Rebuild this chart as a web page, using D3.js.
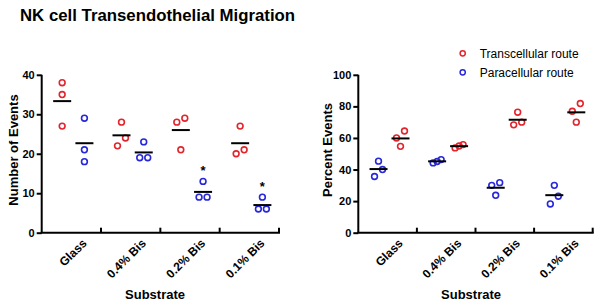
<!DOCTYPE html>
<html>
<head>
<meta charset="utf-8">
<script src="https://cdn.jsdelivr.net/npm/d3@7"></script>
<style>
  body { margin: 0; background: #fff; }
  text { font-family: "Liberation Sans", Arial, sans-serif; }
</style>
</head>
<body>
<div id="chart"></div>
<script>
// values (3 replicates each)
const categories = ["Glass", "0.4% Bis", "0.2% Bis", "0.1% Bis"];
const transEvents = [[38, 35, 27], [28, 24, 22], [29, 28, 21], [27, 21, 20]];
const paraEvents = [[29, 21, 18], [23, 19, 19], [13, 9, 9], [9, 6, 6]];
const transPercent = [[64.4, 54.7, 60], [54.9, 55.8, 53.7], [76.3, 68.3, 70], [81.8, 76.9, 70]];
const paraPercent = [[35.6, 45.3, 40], [45.1, 44.2, 46.3], [23.7, 31.7, 30], [18.2, 23.1, 30]];
const paraSignificant = [false, false, true, true];
const eventTicks = [0, 10, 20, 30, 40];
const percentTicks = [0, 20, 40, 60, 80, 100];
const seriesNames = ["Transcellular route", "Paracellular route"];

function init() {
  const w = 602;
  const h = 308;
  const red = "#e2252d";
  const blue = "#2727dc";

  const svg = d3
    .select("#chart")
    .append("svg")
    .attr("width", w)
    .attr("height", h);

  svg
    .append("text")
    .attr("x", 20)
    .attr("y", 21)
    .attr("font-size", "16.8px")
    .attr("font-weight", "bold")
    .text("NK cell Transendothelial Migration");

  // spread overlapping points sideways, like a prism scatter
  function jitter(vals, y) {
    const pts = vals.map((v) => ({ v: v, py: y(v) })).sort((a, b) => a.v - b.v);
    const clusters = [];
    pts.forEach((p, i) => {
      if (i > 0 && Math.abs(pts[i - 1].py - p.py) < 8) clusters[clusters.length - 1].push(p);
      else clusters.push([p]);
    });
    clusters.forEach((c) => {
      c.forEach((p, i) => {
        p.dx = c.length > 1 ? -4 + (8 * i) / (c.length - 1) : 0;
      });
    });
    return pts;
  }

  function drawPanel(opt) {
    const x = d3.scaleBand().domain(categories).range([opt.x0, opt.x1]);
    const y = d3.scaleLinear().domain([0, opt.max]).range([232.7, 74.8]);
    const bw = x.bandwidth();
    const g = svg.append("g");

    // y axis
    const yAxis = g
      .append("g")
      .attr("transform", "translate(" + opt.x0 + ",0)")
      .call(d3.axisLeft(y).tickValues(opt.ticks).tickSize(5).tickPadding(2));
    yAxis.select(".domain").attr("stroke-width", 2).attr("d", "M0," + y(0) + "V" + y(opt.max));
    yAxis.selectAll(".tick line").attr("stroke-width", 2);
    yAxis
      .selectAll(".tick text")
      .attr("font-size", "11px")
      .attr("font-weight", "bold")
      .attr("font-family", "Liberation Sans, Arial, sans-serif")
      .attr("fill", "#000");

    // x axis: line with inward ticks at the category edges
    g.append("line")
      .attr("x1", opt.x0 - 1)
      .attr("x2", opt.x1 + 1)
      .attr("y1", y(0))
      .attr("y2", y(0))
      .attr("stroke", "#000")
      .attr("stroke-width", 2);
    g.selectAll(".xtick")
      .data(categories)
      .enter()
      .append("line")
      .attr("x1", (d) => x(d) + bw)
      .attr("x2", (d) => x(d) + bw)
      .attr("y1", y(0))
      .attr("y2", y(0) - 5)
      .attr("stroke", "#000")
      .attr("stroke-width", 2);

    g.selectAll(".xlabel")
      .data(categories)
      .enter()
      .append("text")
      .attr("transform", (d) => "translate(" + (x(d) + bw / 2 + 16) + ",244) rotate(-45)")
      .attr("text-anchor", "end")
      .attr("font-size", "12px")
      .attr("font-weight", "bold")
      .text((d) => d);

    g.append("text")
      .attr("x", opt.xTitle)
      .attr("y", 299)
      .attr("text-anchor", "middle")
      .attr("font-size", "13px")
      .attr("font-weight", "bold")
      .text("Substrate");

    g.append("text")
      .attr("transform", "translate(" + opt.yTitleX + ",150) rotate(-90)")
      .attr("text-anchor", "middle")
      .attr("font-size", "13px")
      .attr("font-weight", "bold")
      .text(opt.yTitle);

    // the two series in each category
    opt.series.forEach((s, si) => {
      const frac = si === 0 ? 0.345 : 0.72;
      s.values.forEach((vals, ci) => {
        const cx = x(categories[ci]) + bw * frac;
        const pts = jitter(vals, y);
        g.selectAll(null)
          .data(pts)
          .enter()
          .append("circle")
          .attr("cx", (d) => cx + d.dx)
          .attr("cy", (d) => d.py)
          .attr("r", 2.9)
          .attr("fill", "none")
          .attr("stroke", s.color)
          .attr("stroke-width", 1.6);

        const m = d3.mean(vals);
        g.append("line")
          .attr("x1", cx - 9)
          .attr("x2", cx + 9)
          .attr("y1", y(m))
          .attr("y2", y(m))
          .attr("stroke", "#000")
          .attr("stroke-width", 2);

        if (s.sig && s.sig[ci]) {
          g.append("text")
            .attr("x", cx)
            .attr("y", y(d3.max(vals)) - 6)
            .attr("text-anchor", "middle")
            .attr("font-size", "13px")
            .attr("font-weight", "bold")
            .text("*");
        }
      });
    });
  }

  drawPanel({
    x0: 41.7,
    x1: 279,
    max: 40,
    ticks: eventTicks,
    xTitle: 155,
    yTitle: "Number of Events",
    yTitleX: 18,
    series: [
      { values: transEvents, color: red },
      { values: paraEvents, color: blue, sig: paraSignificant }
    ]
  });

  drawPanel({
    x0: 358.3,
    x1: 592.7,
    max: 100,
    ticks: percentTicks,
    xTitle: 471,
    yTitle: "Percent Events",
    yTitleX: 332,
    series: [
      { values: paraPercent, color: blue },
      { values: transPercent, color: red }
    ]
  });

  // legend
  const legend = svg
    .selectAll(".legend")
    .data(seriesNames)
    .enter()
    .append("g")
    .attr("class", "legend")
    .attr("transform", (d, i) => "translate(462.7," + (53.3 + i * 19) + ")");

  legend
    .append("circle")
    .attr("r", 2.6)
    .attr("fill", "none")
    .attr("stroke", (d, i) => (i === 0 ? red : blue))
    .attr("stroke-width", 1.5);

  legend
    .append("text")
    .attr("x", 17)
    .attr("dy", ".35em")
    .attr("font-size", "12px")
    .text((d) => d);
}
window.addEventListener("load", init);
</script>
</body>
</html>
